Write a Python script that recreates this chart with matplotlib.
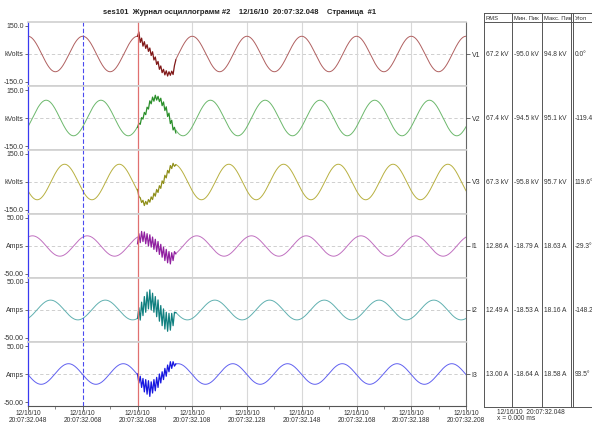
import numpy as np
import matplotlib
matplotlib.use('Agg')
import matplotlib.pyplot as plt
from matplotlib.ticker import MultipleLocator

plt.rcParams['font.family'] = ['Liberation Sans', 'DejaVu Sans']

# channel table
channels = ['V1', 'V2', 'V3', 'I1', 'I2', 'I3']
units = ['kVolts', 'kVolts', 'kVolts', 'Amps', 'Amps', 'Amps']
full_scale = [150.0, 150.0, 150.0, 50.0, 50.0, 50.0]
rms = [67.2, 67.4, 67.3, 12.86, 12.49, 13.00]
angle = [0.0, -119.4, 119.6, -29.3, -148.2, 93.5]
rms_txt = ['67.2 kV', '67.4 kV', '67.3 kV', '12.86 A', '12.49 A', '13.00 A']
min_txt = ['-95.0 kV', '-94.5 kV', '-95.8 kV', '-18.79 A', '-18.53 A', '-18.64 A']
max_txt = ['94.8 kV', '95.1 kV', '95.7 kV', '18.63 A', '18.16 A', '18.58 A']
ang_txt = ['0.0°', '-119.4°', '119.6°', '-29.3°', '-148.2°', '93.5°']

# disturbance samples, 40..54 ms every 0.5 ms
dist_start, dist_step = 40.0, 0.5
v1_dist = [95, 118, 62, 85, 42, 66, 30, 50, 14, 32, -8, 12, -32, -16, -56,
           -40, -82, -64, -100, -82, -112, -90, -118, -95, -114, -92, -110, -62, -32]
v2_dist = [-50, -28, -34, 2, -6, 30, 18, 58, 48, 92, 76, 112, 90, 122, 96,
           116, 88, 106, 66, 86, 40, 60, 8, 26, -30, -12, -64, -50, -80]
v3_dist = [-40, -78, -84, -110, -98, -126, -104, -120, -94, -108, -80, -94, -60, -76, -40,
           -56, -20, -34, 6, -8, 36, 22, 62, 48, 88, 72, 100, 84, 92]
i1_dist = [4, 22, 6, 26, 8, 25, 4, 22, 0, 20, -2, 16, -6, 12, -10,
           8, -15, 3, -20, -2, -26, -6, -30, -10, -32, -12, -26, -10, -14]
i2_dist = [-15, 4, -18, 14, -10, 24, -4, 32, 2, 36, 0, 30, -4, 24, -12,
           18, -20, 8, -28, 2, -34, -4, -38, -6, -36, -6, -28, -4, -5]
i3_dist = [0, -16, -4, -24, -8, -32, -10, -36, -12, -40, -14, -34, -10, -30, -6,
           -24, 0, -16, 4, -10, 10, -4, 16, 4, 22, 10, 22, 14, 18]
disturb = [v1_dist, v2_dist, v3_dist, i1_dist, i2_dist, i3_dist]

line_col = ['#b06060', '#6cb86c', '#b8b040', '#c070c0', '#60b0b0', '#6060f0']
dist_col = ['#801818', '#2a8f2a', '#8f8f1a', '#9020a0', '#108080', '#1818e0']

tick_ms = [0, 20, 40, 60, 80, 100, 120, 140, 160]
tick_lbl = ['12/16/10\n20:07:32.048', '12/16/10\n20:07:32.068', '12/16/10\n20:07:32.088',
            '12/16/10\n20:07:32.108', '12/16/10\n20:07:32.128', '12/16/10\n20:07:32.148',
            '12/16/10\n20:07:32.168', '12/16/10\n20:07:32.188', '12/16/10\n20:07:32.208']

W, H = 592, 423
fig = plt.figure(figsize=(W / 100, H / 100), dpi=100)

left_px, right_px, top_px, pitch = 28, 466, 22, 64.0
t = np.arange(0, 160.001, 0.05)

for i, ch in enumerate(channels):
    y0 = top_px + pitch * i
    ax = fig.add_axes([left_px / W, 1 - (y0 + pitch) / H, (right_px - left_px) / W, pitch / H])
    fs = full_scale[i]
    lim = fs * (pitch / 2) / 28.0
    wave = rms[i] * np.sqrt(2) * np.cos(2 * np.pi * 50 * t / 1000 + np.radians(angle[i]))
    d = np.array(disturb[i], dtype=float)
    td = dist_start + dist_step * np.arange(len(d))
    pre = t <= td[0]
    post = t >= td[-1]
    ax.plot(t[pre], wave[pre], color=line_col[i], lw=0.7)
    ax.plot(t[post], wave[post], color=line_col[i], lw=0.7)
    ax.plot(td, d, color=dist_col[i], lw=0.9)

    ax.set_xlim(0, 160)
    ax.set_ylim(-lim, lim)
    ax.axhline(0, color='#c8c8c8', lw=0.6, ls=(0, (4, 3)), zorder=0)
    for tm in tick_ms[3:-1]:
        ax.axvline(tm, color='#d8d8d8', lw=0.8, zorder=0)
    ax.axvline(20, color='#4a4af0', lw=0.8, ls=(0, (4, 2)))
    ax.axvline(40, color='#e07070', lw=0.9)

    ax.set_yticks([fs, 0, -fs])
    if fs >= 100:
        ax.set_yticklabels(['%.1f' % fs, units[i], '%.1f' % -fs])
    else:
        ax.set_yticklabels(['%.2f' % fs, units[i], '%.2f' % -fs])
    ax.tick_params(axis='y', labelsize=5, length=2, width=0.5, pad=1, colors='#333333')

    for s in ('top', 'bottom'):
        ax.spines[s].set_color('#d0d0d0')
        ax.spines[s].set_linewidth(1.2)
    ax.spines['left'].set_color('#3a3af0')
    ax.spines['left'].set_linewidth(0.9)
    ax.spines['right'].set_color('#666666')
    ax.spines['right'].set_linewidth(0.8)

    ax2 = ax.twinx()
    ax2.set_ylim(-lim, lim)
    ax2.set_yticks([0])
    ax2.set_yticklabels([ch])
    ax2.tick_params(axis='y', labelsize=5, length=3, width=0.5, pad=1, colors='#333333')
    for s in ('top', 'bottom', 'left', 'right'):
        ax2.spines[s].set_visible(False)

    if i < len(channels) - 1:
        ax.set_xticks([])
    else:
        ax.spines['bottom'].set_color('#555555')
        ax.spines['bottom'].set_linewidth(0.8)
        ax.set_xticks(tick_ms)
        ax.set_xticklabels(tick_lbl)
        ax.xaxis.set_minor_locator(MultipleLocator(10))
        ax.tick_params(axis='x', which='major', labelsize=4.8, length=3, width=0.5, pad=0,
                       colors='#333333')
        ax.tick_params(axis='x', which='minor', length=2, width=0.5, color='#555555')
        for lbl in ax.get_xticklabels():
            lbl.set_linespacing(0.95)

fig.text(240 / W, 1 - 12 / H,
         'ses101  Журнал осциллограмм #2    12/16/10  20:07:32.048    Страница  #1',
         ha='center', va='center', fontsize=5.5, fontweight='bold', color='#222222')

# table on the right, in pixel coordinates
tab = fig.add_axes([0, 0, 1, 1])
tab.set_xlim(0, W)
tab.set_ylim(H, 0)
tab.axis('off')
for xv in (484, 512, 542, 571, 573):
    tab.plot([xv, xv], [13, 407], color='#555555', lw=0.7)
tab.plot([484, W], [13, 13], color='#555555', lw=0.7)
tab.plot([484, W], [22.5, 22.5], color='#555555', lw=0.7)
tab.plot([484, W], [407, 407], color='#555555', lw=0.7)
col_x = [486, 514, 544, 575]
for cx, hdr in zip(col_x, ['RMS', 'Мин. Пик', 'Макс. Пик', 'Угол']):
    tab.text(cx, 18, hdr, fontsize=4.2, color='#333333', ha='left', va='center')
for i in range(len(channels)):
    cy = top_px + pitch * i + pitch / 2
    for cx, txt in zip(col_x, [rms_txt[i], min_txt[i], max_txt[i], ang_txt[i]]):
        tab.text(cx, cy, txt, fontsize=4.8, color='#333333', ha='left', va='center')
tab.text(497, 412, '12/16/10  20:07:32.048', fontsize=4.8, color='#333333', ha='left', va='center')
tab.text(497, 419, 'x = 0.000 ms', fontsize=4.8, color='#333333', ha='left', va='center')

fig.savefig('out.png', dpi=100)
